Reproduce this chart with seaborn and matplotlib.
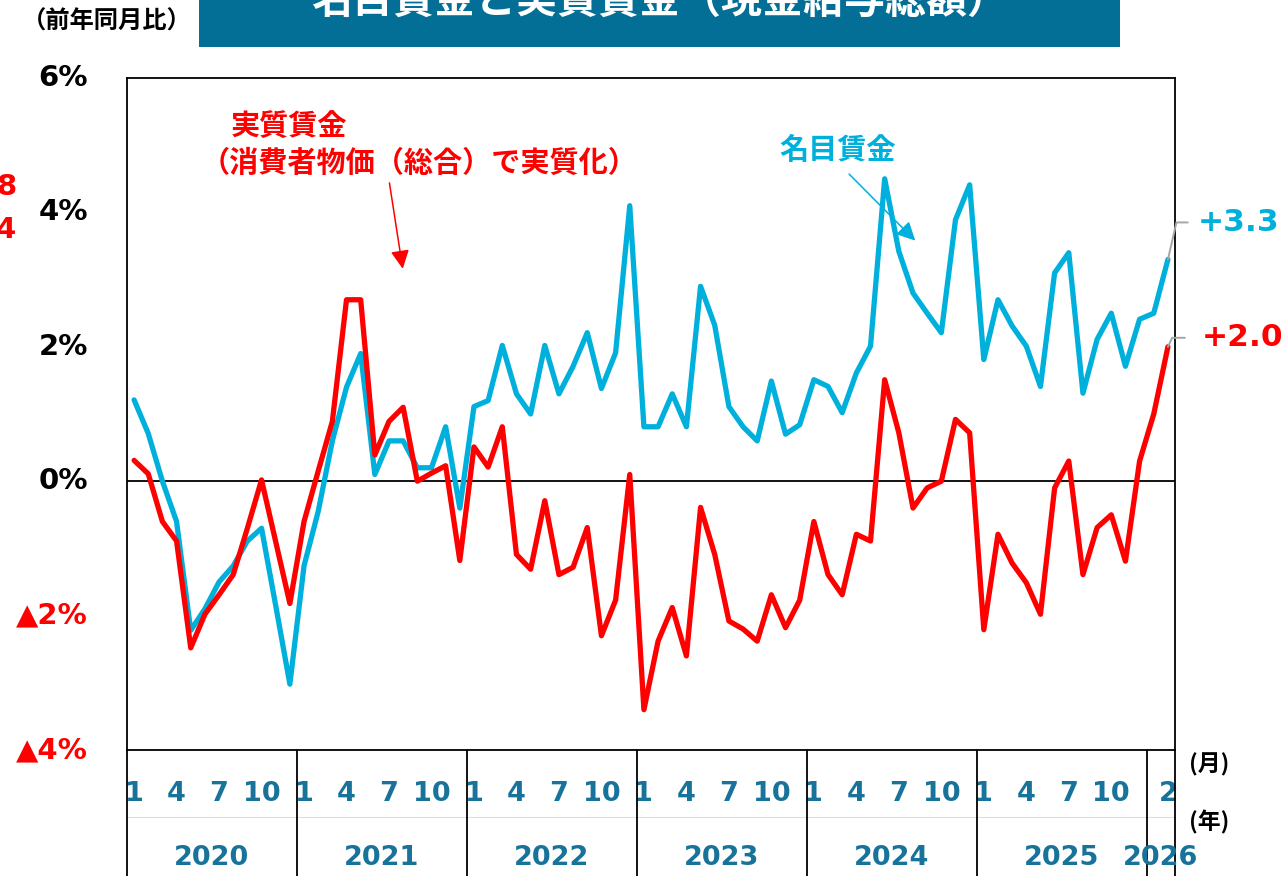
import numpy as np
import pandas as pd
import matplotlib
matplotlib.use("Agg")
import matplotlib.pyplot as plt
import seaborn as sns
from matplotlib.patches import Rectangle

# ---------------- data ----------------
years = ["2020", "2021", "2022", "2023", "2024", "2025", "2026"]
months_per_year = [12, 12, 12, 12, 12, 12, 2]

nominal = [  # 名目賃金 (前年同月比, %)
    1.21, 0.71, 0.00, -0.60, -2.22, -1.90, -1.50, -1.26, -0.89, -0.70, -1.85, -3.02,
    -1.26, -0.45, 0.60, 1.40, 1.90, 0.10, 0.60, 0.60, 0.20, 0.20, 0.81, -0.40,
    1.11, 1.20, 2.02, 1.30, 1.00, 2.02, 1.30, 1.71, 2.21, 1.38, 1.91, 4.10,
    0.81, 0.81, 1.30, 0.81, 2.90, 2.32, 1.11, 0.81, 0.60, 1.49, 0.70, 0.84,
    1.51, 1.41, 1.02, 1.61, 2.01, 4.50, 3.42, 2.80, 2.50, 2.21, 3.89, 4.41,
    1.81, 2.70, 2.31, 2.01, 1.41, 3.10, 3.40, 1.31, 2.11, 2.50, 1.71, 2.41,
    2.50, 3.30,
]
real = [  # 実質賃金 (前年同月比, %)
    0.31, 0.11, -0.60, -0.89, -2.48, -1.98, -1.69, -1.39, -0.70, 0.02, -0.90, -1.82,
    -0.60, 0.15, 0.89, 2.70, 2.70, 0.39, 0.89, 1.10, 0.00, 0.12, 0.23, -1.18,
    0.51, 0.21, 0.81, -1.09, -1.31, -0.29, -1.39, -1.28, -0.69, -2.30, -1.77, 0.10,
    -3.40, -2.38, -1.88, -2.60, -0.39, -1.09, -2.08, -2.20, -2.38, -1.69, -2.18, -1.77,
    -0.60, -1.39, -1.69, -0.79, -0.89, 1.51, 0.72, -0.40, -0.10, 0.00, 0.92, 0.72,
    -2.21, -0.79, -1.22, -1.51, -1.98, -0.10, 0.30, -1.39, -0.69, -0.50, -1.19, 0.30,
    1.00, 2.00,
]
month_tick_months = [1, 4, 7, 10]
last_month_label = "2"
y_ticks = [-4, -2, 0, 2, 4, 6]
y_tick_labels = ["▲4%", "▲2%", "0%", "2%", "4%", "6%"]

# ---------------- style ----------------
BLUE = "#00B0DC"
RED = "#FF0000"
TEAL = "#17739A"
TITLE_BG = "#036F96"
JP = ["Noto Sans CJK JP", "DejaVu Sans"]

sns.set_theme(style="white")
plt.rcParams["font.family"] = ["DejaVu Sans"]
plt.rcParams["font.weight"] = "bold"

W, H = 1281, 876
fig = plt.figure(figsize=(W / 100, H / 100), dpi=100)
fig.patch.set_facecolor("white")
ax = fig.add_axes([127 / W, 1 - 750 / H, 1048 / W, 672 / H])

n = len(nominal)
idx = np.arange(n)
df = pd.DataFrame({
    "i": np.concatenate([idx, idx]),
    "v": nominal + real,
    "s": ["名目賃金"] * n + ["実質賃金"] * n,
})
sns.lineplot(data=df, x="i", y="v", hue="s", hue_order=["名目賃金", "実質賃金"],
             palette={"名目賃金": BLUE, "実質賃金": RED}, lw=3.8,
             legend=False, ax=ax, zorder=3)

ax.axhline(0, color="black", lw=1.3, zorder=2)
ax.set_xlim(-0.5, n - 0.5)
ax.set_ylim(-4, 6)
ax.set_xlabel("")
ax.set_ylabel("")
for sp in ax.spines.values():
    sp.set_visible(True)
    sp.set_color("black")
    sp.set_linewidth(1.3)

# y ticks
ax.set_yticks(y_ticks)
ax.set_yticklabels(y_tick_labels)
ax.tick_params(axis="y", length=0, pad=28, labelsize=21)
for lab, v in zip(ax.get_yticklabels(), y_ticks):
    lab.set_color(RED if v < 0 else "black")
    lab.set_fontweight("bold")
    lab.set_verticalalignment("center")

# x ticks (months)
tick_pos, tick_lab = [], []
start = 0
for y, m in zip(years, months_per_year):
    if m == 12:
        for mm in month_tick_months:
            tick_pos.append(start + mm - 1)
            tick_lab.append(str(mm))
    else:
        tick_pos.append(start + m - 1)
        tick_lab.append(last_month_label)
    start += m
ax.set_xticks(tick_pos)
ax.set_xticklabels(tick_lab)
ax.tick_params(axis="x", length=0, pad=22, labelsize=19.5, labelcolor=TEAL)
for lab in ax.get_xticklabels():
    lab.set_fontweight("bold")

# year dividers and year labels below the plot
xt = ax.get_xaxis_transform()
bottom_ax = -(H - 750) / 672 - 0.01
start = 0
bounds = [-0.5]
for y, m in zip(years, months_per_year):
    ax.text(start + (m - 1) / 2, -(858 - 750) / 672, y, transform=xt,
            ha="center", va="center", fontsize=19.5, color=TEAL, fontweight="bold")
    start += m
    bounds.append(start - 0.5)
for b in bounds:
    ax.plot([b, b], [0, bottom_ax], transform=xt, color="black", lw=1.3,
            clip_on=False, zorder=1)
ax.plot([-0.5, n - 0.5], [-(817 - 750) / 672] * 2, transform=xt, color="#DDDDDD",
        lw=0.8, clip_on=False, zorder=0)

# end-value labels with leader lines
for series, col, dy_px, txt in [(nominal, BLUE, 37, "+3.3"), (real, RED, 9, "+2.0")]:
    x_end, v_end = n - 1, series[-1]
    v_lab = v_end + dy_px / 67.2
    ax.plot([x_end, x_end + 0.5 + (0.1 if col == BLUE else -0.2), x_end + 1.4 + (0 if col == BLUE else -0.2)],
            [v_end, v_lab, v_lab], color="#A6A6A6", lw=1.4, clip_on=False, zorder=4)
    ax.text(x_end + 2.1 + (0 if col == BLUE else 0.3), v_lab, txt, color=col,
            fontsize=22.5, fontweight="bold", ha="left", va="center")

# annotations
ax.text(10.95, 5.28, "実質賃金", color=RED, fontsize=21, fontweight="bold",
        family=JP, ha="center", va="center")
ax.text(20.1, 4.73, "（消費者物価（総合）で実質化）", color=RED, fontsize=21,
        fontweight="bold", family=JP, ha="center", va="center")
ax.annotate("", xy=(19.0, 3.12), xytext=(18.0, 4.48),
            arrowprops=dict(arrowstyle="-|>", color=RED, lw=1.1, mutation_scale=28))
ax.text(49.7, 4.93, "名目賃金", color=BLUE, fontsize=21, fontweight="bold",
        family=JP, ha="center", va="center")
ax.annotate("", xy=(55.3, 3.55), xytext=(50.35, 4.60),
            arrowprops=dict(arrowstyle="-|>", color=BLUE, lw=1.1, mutation_scale=28))

# title bar
fig.patches.append(Rectangle((199 / W, 1 - 47 / H), 921 / W, 47 / H,
                             transform=fig.transFigure, facecolor=TITLE_BG,
                             edgecolor="none", zorder=0))
fig.text(659.5 / W, 1 - 1 / H, "名目賃金と実質賃金（現金給与総額）", color="white",
         fontsize=29.5, fontweight="bold", family=JP, ha="center", va="center")

fig.text(107 / W, 1 - 22 / H, "（前年同月比）", color="black", fontsize=17.5,
         fontweight="bold", family=JP, ha="center", va="center")
fig.text(1209 / W, 1 - 765 / H, "(月)", color="black", fontsize=16.5,
         fontweight="bold", family=JP, ha="center", va="center")
fig.text(1209 / W, 1 - 822 / H, "(年)", color="black", fontsize=16.5,
         fontweight="bold", family=JP, ha="center", va="center")

# clipped labels at the left edge
fig.text(16 / W, 1 - 187 / H, "8", color=RED, fontsize=21, fontweight="bold",
         ha="right", va="center")
fig.text(16 / W, 1 - 230 / H, "4", color=RED, fontsize=21, fontweight="bold",
         ha="right", va="center")

fig.savefig("out.png", dpi=100)
